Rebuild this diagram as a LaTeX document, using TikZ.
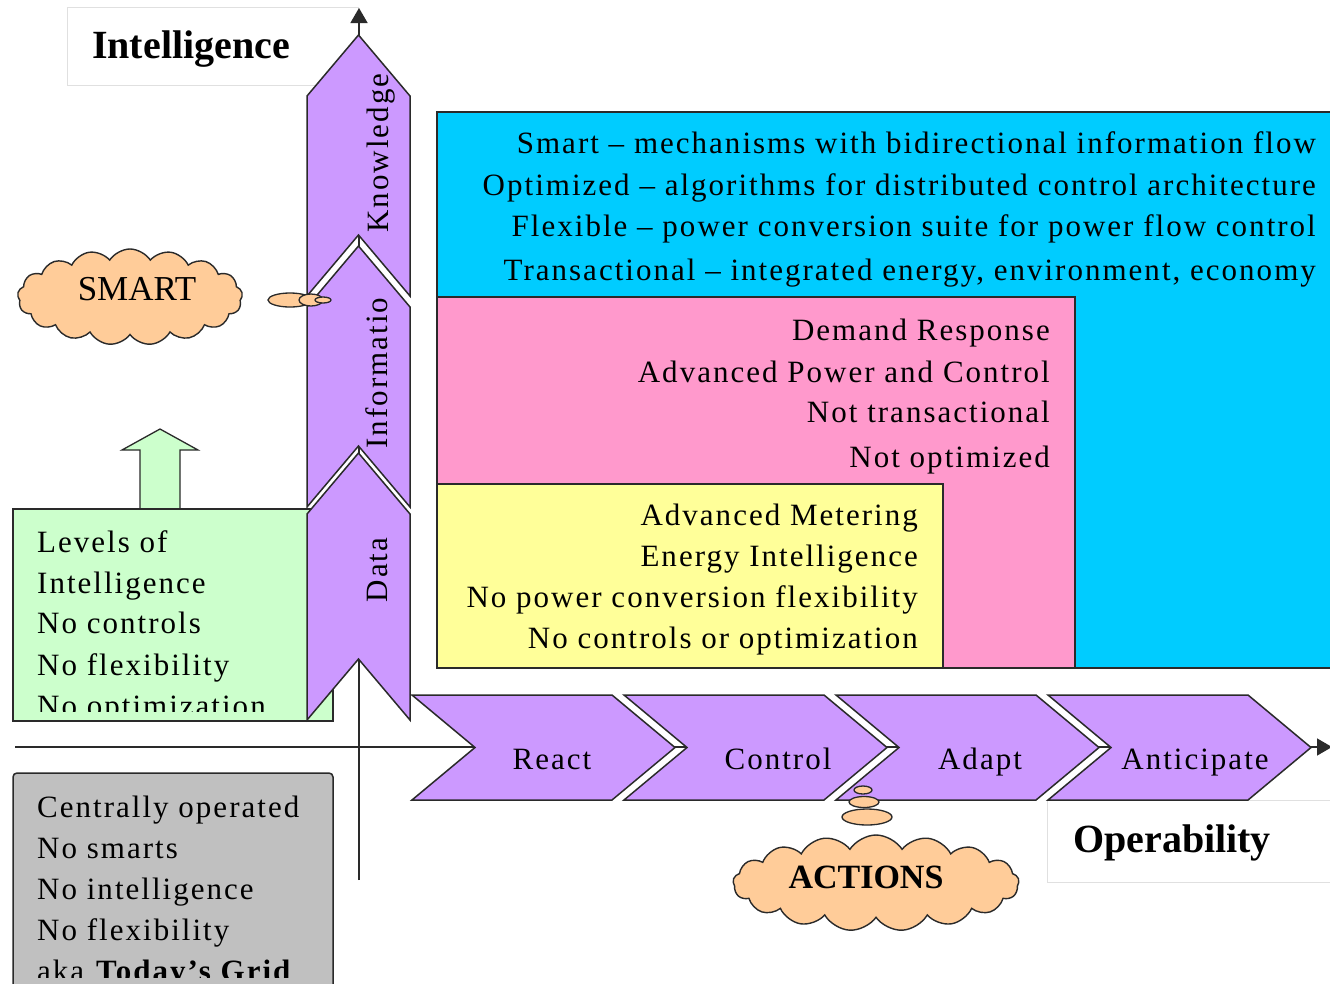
\documentclass[tikz,border=0pt]{standalone}
\usepackage{fontspec}
\setmainfont{Liberation Serif}
\newfontfamily\lsfont[LetterSpace=6.5]{Liberation Serif}
\usetikzlibrary{shapes.symbols,arrows.meta}
\definecolor{vio}{HTML}{CC99FF}
\definecolor{sky}{HTML}{00CCFF}
\definecolor{rose}{HTML}{FF99CC}
\definecolor{lemon}{HTML}{FFFF99}
\definecolor{mint}{HTML}{CCFFCC}
\definecolor{ash}{HTML}{C0C0C0}
\definecolor{peach}{HTML}{FFCC99}
\definecolor{edgec}{HTML}{2A2A2A}
\newcommand{\chevH}[1]{(#1,695) -- ++(200,0) -- ++(63,52.5) -- ++(-63,52.5) -- ++(-200,0) -- ++(63,-52.5) -- cycle}
\newcommand{\chevV}[2]{(358.5,#1) -- (410,#1+61) -- (410,#2) -- (358.5,#2-61) -- (307,#2) -- (307,#1+61) -- cycle}
\tikzset{
  body/.style={font={\lsfont\fontsize{31}{41}\selectfont}, inner sep=0pt},
  titletext/.style={font={\bfseries\fontsize{40}{40}\selectfont}, inner sep=0pt},
  boxline/.style={draw=edgec, line width=1.5pt},
  faintbox/.style={draw=black!12, line width=1pt, fill=white},
  chevshape/.style={fill=vio, draw=edgec, line width=1.5pt, line join=miter},
  axisline/.style={draw=edgec, line width=1.5pt, -{Triangle[length=15pt,width=17pt]}},
  puff/.style={cloud, cloud puffs=17, cloud puff arc=115, cloud ignores aspect, fill=peach, draw=edgec, line width=1.4pt, inner sep=0pt},
  bubble/.style={fill=peach, draw=edgec, line width=1.3pt}
}
\begin{document}
\begin{tikzpicture}[x=1pt,y=-1pt]
\useasboundingbox (0,0) rectangle (1330,983);
\clip (0,0) rectangle (1330,983);
\fill[white] (0,0) rectangle (1330,983);

% label boxes
\draw[faintbox] (67,7) rectangle (358,85);
\node[titletext, anchor=base] (intel) at (191,58) {Intelligence};
\draw[faintbox] (1047,800) rectangle (1345,882);
\node[titletext, anchor=base] (oper) at (1172,852) {Operability};

% axes
\coordinate (vbot) at (359,880);
\coordinate (vtop) at (359,8);
\coordinate (hleft) at (15,747);
\coordinate (hright) at (1332,747);
\draw[axisline] (vbot) -- (vtop);
\draw[axisline] (hleft) -- (hright);

% nested boxes
\filldraw[boxline, fill=sky] (437,112) rectangle (1345,668);
\filldraw[boxline, fill=rose] (437,297) rectangle (1075,668);
\filldraw[boxline, fill=lemon] (437,484) rectangle (943,668);

\node[body, anchor=base east] (b1) at (1316,153) {Smart – mechanisms with bidirectional information flow};
\node[body, anchor=base east] (b2) at (1316,195) {Optimized – algorithms for distributed control architecture};
\node[body, anchor=base east] (b3) at (1316,236) {Flexible – power conversion suite for power flow control};
\node[body, anchor=base east] (b4) at (1316,280) {Transactional – integrated energy, environment, economy};

\node[body, anchor=base east] (p1) at (1050,340) {Demand Response};
\node[body, anchor=base east] (p2) at (1050,382) {Advanced Power and Control};
\node[body, anchor=base east] (p3) at (1050,422) {Not transactional};
\node[body, anchor=base east] (p4) at (1050,467) {Not optimized};

\node[body, anchor=base east] (y1) at (918,525) {Advanced Metering};
\node[body, anchor=base east] (y2) at (918,566) {Energy Intelligence};
\node[body, anchor=base east] (y3) at (918,607) {No power conversion flexibility};
\node[body, anchor=base east] (y4) at (918,648) {No controls or optimization};

% green arrow and box
\filldraw[boxline, fill=mint, line width=1.3pt] (140,512) -- (140,450) -- (122,450) -- (160,429) -- (198,450) -- (180,450) -- (180,512) -- cycle;
\filldraw[boxline, fill=mint] (13,509) rectangle (333,721);
\begin{scope}
\clip (13,509) rectangle (333,711);
\node[body, anchor=base west] (g1) at (37,552) {Levels of};
\node[body, anchor=base west] (g2) at (37,593) {Intelligence};
\node[body, anchor=base west] (g3) at (37,633) {No controls};
\node[body, anchor=base west] (g4) at (37,675) {No flexibility};
\node[body, anchor=base west] (g5) at (37,716) {No optimization};
\end{scope}

% gray box
\filldraw[boxline, fill=ash, rounded corners=4pt] (13,773) rectangle (333,1010);
\begin{scope}
\clip (13,773) rectangle (333,977);
\node[body, anchor=base west] (k1) at (37,817) {Centrally operated};
\node[body, anchor=base west] (k2) at (37,858) {No smarts};
\node[body, anchor=base west] (k3) at (37,899) {No intelligence};
\node[body, anchor=base west] (k4) at (37,940) {No flexibility};
\node[body, anchor=base west] (k5) at (37,981) {aka \textbf{Today’s Grid}};
\end{scope}

% vertical chevrons
\filldraw[chevshape] \chevV{35}{296};
\filldraw[chevshape] \chevV{246}{507};
\filldraw[chevshape] \chevV{453}{720};
\node[body, rotate=90, anchor=base] (know) at (388,153) {Knowledge};
\node[body, rotate=90, anchor=base] (info) at (387,373) {Informatio};
\node[body, rotate=90, anchor=base] (data) at (387,570) {Data};

% horizontal chevrons
\filldraw[chevshape] \chevH{412};
\filldraw[chevshape] \chevH{624};
\filldraw[chevshape] \chevH{836};
\filldraw[chevshape] \chevH{1048};
\node[body, anchor=base] (react) at (552,769) {React};
\node[body, anchor=base] (ctrl) at (778,769) {Control};
\node[body, anchor=base] (adapt) at (980,769) {Adapt};
\node[body, anchor=base] (antic) at (1195,769) {Anticipate};

% SMART cloud
\filldraw[bubble] (290,300) ellipse (22 and 7);
\filldraw[bubble] (311,300) ellipse (12 and 6);
\filldraw[bubble] (323,300) ellipse (8 and 3);
\node[puff, minimum width=225pt, minimum height=96pt] (smart) at (130,297) {};
\node[font={\fontsize{35}{35}\selectfont}, inner sep=0pt, anchor=base] (smarttxt) at (137,300) {SMART};

% ACTIONS cloud
\filldraw[bubble] (863,790) ellipse (9 and 4);
\filldraw[bubble] (864,802) ellipse (15 and 5.5);
\filldraw[bubble] (867,817) ellipse (25 and 8);
\node[puff, minimum width=286pt, minimum height=96pt] (act) at (876,883) {};
\node[font={\bfseries\fontsize{34}{34}\selectfont}, inner sep=0pt, anchor=base] (acttxt) at (866,888) {ACTIONS};
\end{tikzpicture}
\end{document}
